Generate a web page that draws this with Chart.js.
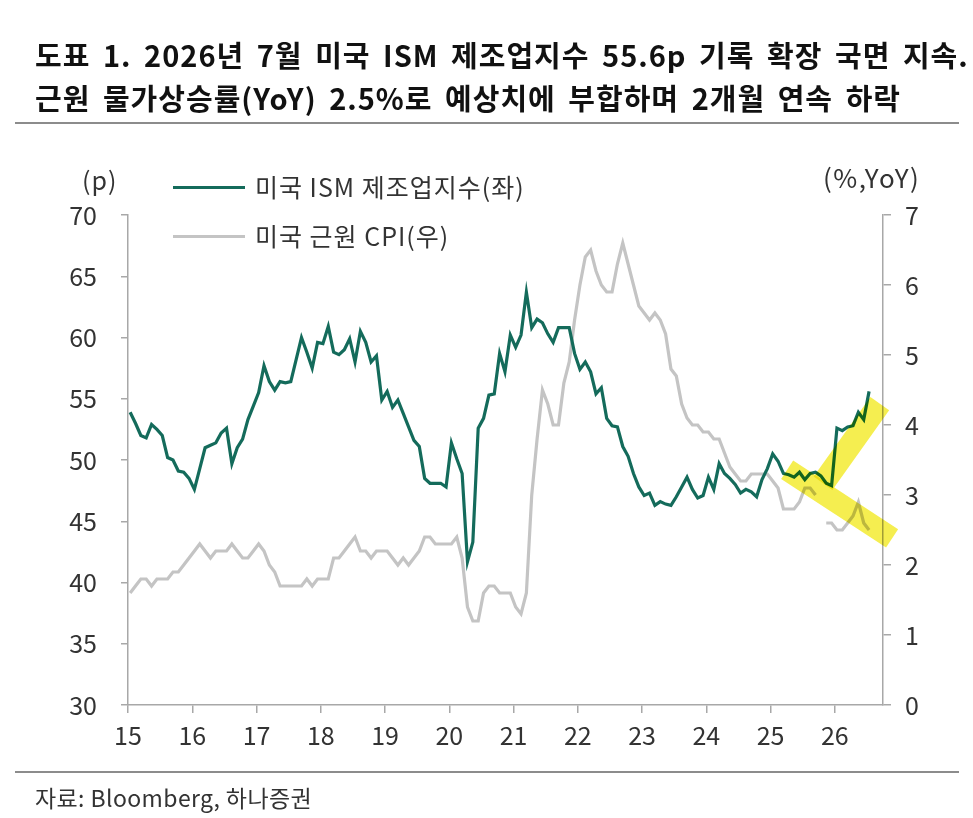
<!DOCTYPE html>
<html><head><meta charset="utf-8">
<script src="https://cdn.jsdelivr.net/npm/chart.js@4.4.1/dist/chart.umd.min.js"></script>
<style>
html,body{margin:0;padding:0;background:#fff}
body{width:973px;height:818px;position:relative;overflow:hidden;font-family:"Noto Sans CJK KR","Noto Sans",sans-serif;color:#222}
.t{position:absolute;white-space:nowrap;line-height:1}
.ttl{font-size:29px;font-weight:700;color:#111;letter-spacing:1px;word-spacing:5px}
.rule{position:absolute;left:15px;width:944px;height:2px;background:#8c8c8c}
.lg{position:absolute;left:173px;width:72px;height:3px}
canvas{position:absolute;left:0;top:0}
</style></head><body>
<canvas id="c" width="973" height="818"></canvas>
<div class="t ttl" style="left:35px;top:40px">도표 1. 2026년 7월 미국 ISM 제조업지수 55.6p 기록 확장 국면 지속.</div>
<div class="t ttl" style="left:35px;top:83px">근원 물가상승률(YoY) 2.5%로 예상치에 부합하며 2개월 연속 하락</div>
<div class="rule" style="top:122px"></div>
<div class="t" style="left:82px;top:167px;font-size:25px;color:#333;letter-spacing:1px">(p)</div>
<div class="t" style="left:823px;top:164px;font-size:26px;color:#333;letter-spacing:1.5px">(%,YoY)</div>
<div class="lg" style="top:186px;background:#146b5b"></div>
<div class="t" style="left:255px;top:174px;font-size:25px;color:#333;letter-spacing:1px">미국 ISM 제조업지수(좌)</div>
<div class="lg" style="top:235px;background:#c4c4c4"></div>
<div class="t" style="left:255px;top:223px;font-size:25px;color:#333;letter-spacing:1px">미국 근원 CPI(우)</div>
<div class="rule" style="top:771px"></div>
<div class="t" style="left:35px;top:786px;font-size:23px;color:#333;letter-spacing:0.4px">자료: Bloomberg, 하나증권</div>
<script>
// ---- data (monthly, Jan 2015 - Jul 2026) ----
const yearLabels = ['15','16','17','18','19','20','21','22','23','24','25','26'];
const ismValues = [
 53.9,53.0,52.0,51.8,52.9,52.5,52.0,50.2,50.0,49.1,49.0,48.5,
 47.6,49.3,51.0,51.2,51.4,52.2,52.6,49.7,51.0,51.7,53.3,54.4,
 55.5,57.7,56.4,55.7,56.4,56.3,56.4,58.2,60.0,58.8,57.5,59.6,
 59.5,60.9,58.8,58.6,59.0,59.9,58.0,60.5,59.6,58.0,58.5,54.9,
 55.6,54.3,54.9,53.8,52.7,51.6,51.1,48.5,48.1,48.1,48.1,47.8,
 51.4,50.1,48.9,41.7,43.3,52.6,53.4,55.3,55.4,58.7,57.2,60.2,
 59.2,60.2,63.7,60.8,61.5,61.2,60.3,59.6,60.8,60.8,60.8,58.7,
 57.4,58.0,57.2,55.4,55.9,53.4,52.8,52.7,51.1,50.3,48.9,47.8,
 47.1,47.3,46.3,46.6,46.4,46.3,47.0,47.8,48.6,47.6,46.9,47.1,
 48.6,47.6,49.7,48.9,48.5,48.0,47.3,47.6,47.4,47.0,48.4,49.3,
 50.5,49.9,48.9,48.8,48.6,49.0,48.4,48.9,49.0,48.7,48.1,47.9,
 52.6,52.4,52.7,52.8,53.9,53.3,55.6
];
const cpiValues = [
 1.6,1.7,1.8,1.8,1.7,1.8,1.8,1.8,1.9,1.9,2.0,2.1,
 2.2,2.3,2.2,2.1,2.2,2.2,2.2,2.3,2.2,2.1,2.1,2.2,
 2.3,2.2,2.0,1.9,1.7,1.7,1.7,1.7,1.7,1.8,1.7,1.8,
 1.8,1.8,2.1,2.1,2.2,2.3,2.4,2.2,2.2,2.1,2.2,2.2,
 2.2,2.1,2.0,2.1,2.0,2.1,2.2,2.4,2.4,2.3,2.3,2.3,
 2.3,2.4,2.1,1.4,1.2,1.2,1.6,1.7,1.7,1.6,1.6,1.6,
 1.4,1.3,1.6,3.0,3.8,4.5,4.3,4.0,4.0,4.6,4.9,5.5,
 6.0,6.4,6.5,6.2,6.0,5.9,5.9,6.3,6.6,6.3,6.0,5.7,
 5.6,5.5,5.6,5.5,5.3,4.8,4.7,4.3,4.1,4.0,4.0,3.9,
 3.9,3.8,3.8,3.6,3.4,3.3,3.2,3.2,3.3,3.3,3.3,3.3,
 3.2,3.1,2.8,2.8,2.8,2.9,3.1,3.1,3.0,null,2.6,2.6,
 2.5,2.5,2.6,2.7,2.9,2.6,2.5
];
// highlight bands (month index since Jan 2015, left-axis value)
const highlightUpMonths = [129.8, 140.4];
const highlightUpValues = [48.1, 54.6];
const highlightDownMonths = [123.1, 142.7];
const highlightDownValues = [49.2, 43.6];
const monthOffset = 0.4;
const axisMaxMonth = 141;

const FONT = '"Noto Sans CJK KR", "Noto Sans", sans-serif';
const AX = '#a8a8a8';
const toXY = (vals) => vals.map((v, i) => ({x: i + monthOffset, y: v}));
const toPts = (ms, vs) => ms.map((m, i) => ({x: m, y: vs[i]}));

const multiplyPlugin = {
  id: 'multiply',
  beforeDatasetDraw(chart, args) {
    if (chart.data.datasets[args.index].highlight) {
      chart.ctx.save();
      chart.ctx.globalCompositeOperation = 'multiply';
    }
  },
  afterDatasetDraw(chart, args) {
    if (chart.data.datasets[args.index].highlight) chart.ctx.restore();
  }
};

new Chart(document.getElementById('c'), {
  type: 'line',
  data: {
    datasets: [
      {label: 'up', highlight: true, data: toPts(highlightUpMonths, highlightUpValues), yAxisID: 'y',
       borderColor: '#f5ee50', borderWidth: 23, pointRadius: 0, borderCapStyle: 'butt', clip: false, order: 0},
      {label: 'down', highlight: true, data: toPts(highlightDownMonths, highlightDownValues), yAxisID: 'y',
       borderColor: '#f5ee50', borderWidth: 22, pointRadius: 0, borderCapStyle: 'butt', clip: false, order: 0},
      {label: '미국 ISM 제조업지수(좌)', data: toXY(ismValues), yAxisID: 'y',
       borderColor: '#146b5b', borderWidth: 3.2, pointRadius: 0, tension: 0, order: 1},
      {label: '미국 근원 CPI(우)', data: toXY(cpiValues), yAxisID: 'y2',
       borderColor: '#c4c4c4', borderWidth: 3.2, pointRadius: 0, tension: 0, spanGaps: false, order: 2}
    ]
  },
  options: {
    responsive: false, animation: false, devicePixelRatio: 1,
    layout: {padding: {top: 215, left: 0, right: 0, bottom: 0}},
    plugins: {legend: {display: false}, tooltip: {enabled: false}},
    scales: {
      x: {
        type: 'linear', min: 0, max: axisMaxMonth,
        afterBuildTicks: (s) => { s.ticks = yearLabels.map((_, i) => ({value: i * 12})); },
        afterFit: (s) => { s.height = 113; },
        ticks: {callback: (v) => yearLabels[Math.round(v / 12)], autoSkip: false, maxRotation: 0,
                font: {family: FONT, size: 25}, color: '#333', padding: 7},
        grid: {drawOnChartArea: false, drawTicks: true, tickLength: 8, color: AX, lineWidth: 1.5},
        border: {color: AX, width: 1.5}
      },
      y: {
        position: 'left', min: 30, max: 70,
        afterFit: (s) => { s.width = 128; },
        ticks: {stepSize: 5, font: {family: FONT, size: 25}, color: '#333', padding: 24},
        grid: {drawOnChartArea: false, drawTicks: true, tickLength: 7, color: AX, lineWidth: 1.5},
        border: {color: AX, width: 1.5}
      },
      y2: {
        position: 'right', min: 0, max: 7,
        afterFit: (s) => { s.width = 90; },
        ticks: {stepSize: 1, font: {family: FONT, size: 25}, color: '#333', padding: 14},
        grid: {drawOnChartArea: false, drawTicks: true, tickLength: 8, color: AX, lineWidth: 1.5},
        border: {color: AX, width: 1.5}
      }
    }
  },
  plugins: [multiplyPlugin]
});
</script>
</body></html>
